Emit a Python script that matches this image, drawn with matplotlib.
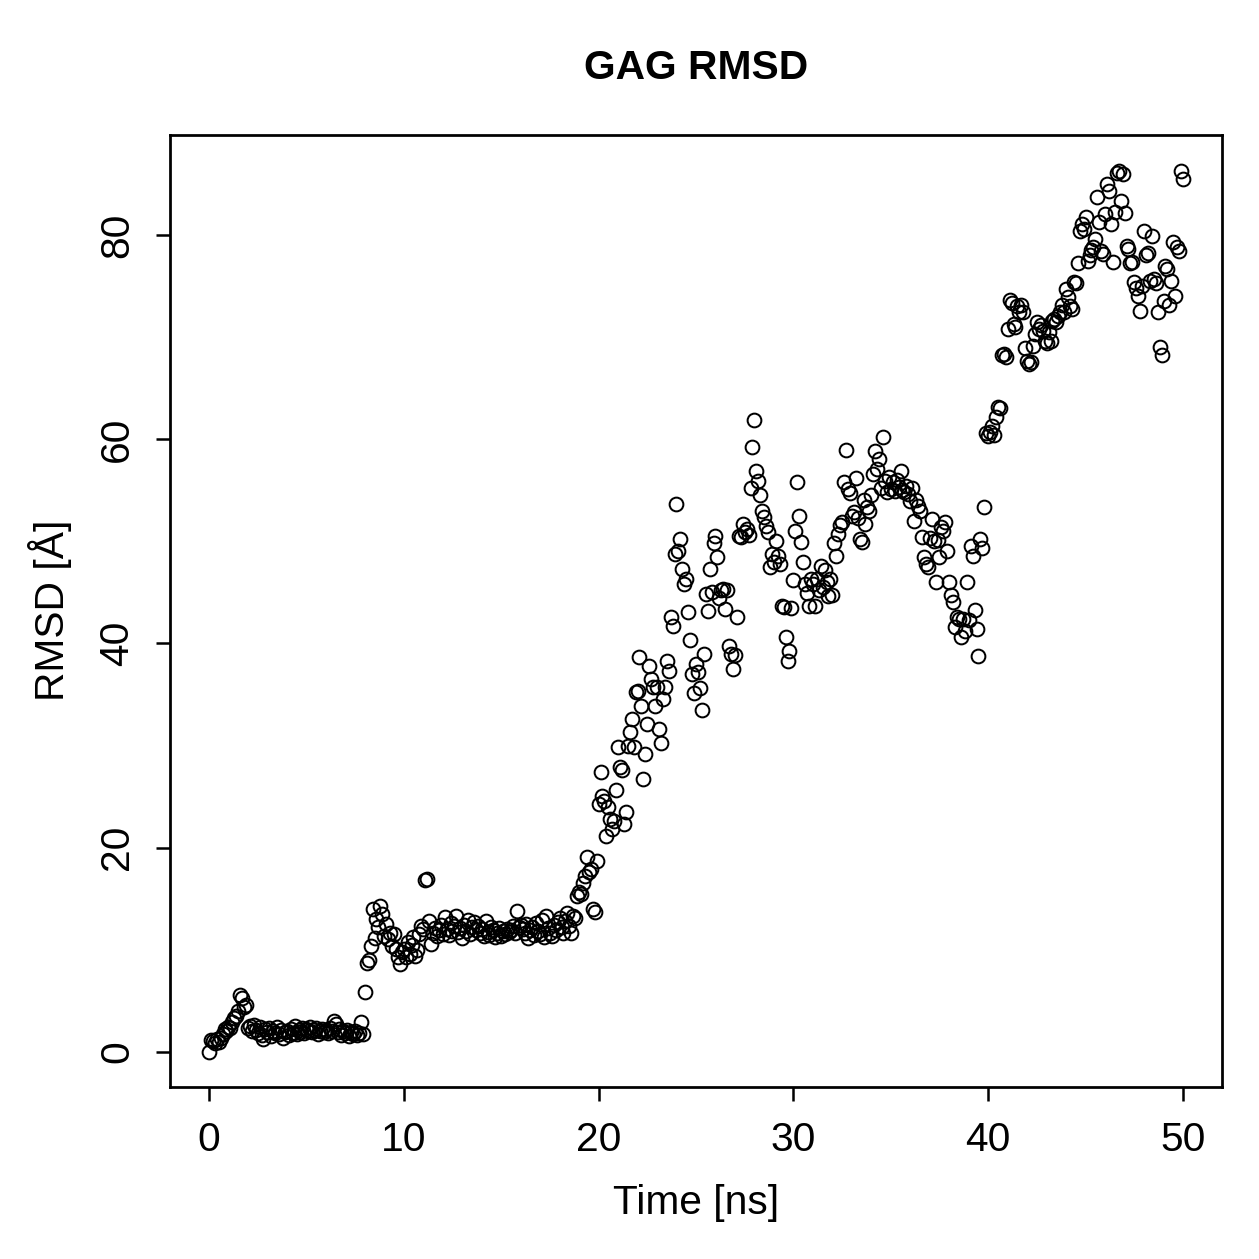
import numpy as np
import matplotlib.pyplot as plt

plt.rcParams['font.family'] = ['Liberation Sans', 'DejaVu Sans']

# tempo de simulacao (ns), um frame a cada 0.1 ns
tempo = np.round(np.arange(0, 501) * 0.1, 1)

# RMSD (Angstrom), 10 valores por ns
rmsd = [
    0.0, 1.2, 1.1, 0.9, 1.3, 1.0, 1.4, 1.7, 2.2, 2.0,
    2.4, 2.3, 2.9, 3.3, 3.5, 4.0, 5.6, 5.3, 4.4, 4.6,
    2.3, 2.5, 2.0, 2.6, 2.1, 1.8, 2.4, 1.6, 1.3, 2.2,
    1.9, 2.3, 1.5, 2.0, 1.8, 2.4, 1.7, 2.1, 1.4, 1.9,
    2.0, 1.6, 2.2, 1.8, 2.5, 1.7, 2.1, 1.9, 2.3, 1.8,
    2.2, 2.0, 2.4, 1.9, 2.1, 2.3, 1.7, 2.0, 2.2, 1.9,
    2.1, 1.8, 2.3, 2.0, 3.0, 2.7, 1.9, 2.2, 1.6, 2.0,
    1.8, 2.1, 1.5, 1.9, 1.7, 2.0, 1.6, 1.8, 2.9, 1.7,
    5.9, 8.7, 9.0, 10.4, 14.0, 11.1, 13.0, 12.2, 14.3, 13.5,
    11.3, 12.5, 11.0, 11.6, 10.4, 11.5, 10.1, 9.3, 8.6, 9.8,
    10.1, 9.3, 10.8, 9.6, 10.5, 11.2, 9.4, 10.0, 11.5, 12.3,
    12.0, 16.8, 16.9, 12.8, 10.6, 11.6, 12.1, 11.3, 11.9, 12.4,
    11.5, 13.2, 12.0, 11.4, 12.6, 11.8, 12.3, 13.3, 11.7, 12.1,
    11.1, 12.4, 11.8, 12.9, 11.5, 12.2, 12.7, 11.9, 12.3, 11.6,
    12.0, 11.3, 12.8, 11.7, 11.4, 12.2, 11.9, 11.2, 11.6, 12.1,
    11.3, 11.8, 11.5, 12.0, 11.7, 11.9, 12.3, 11.6, 13.8, 12.2,
    12.4, 12.0, 11.6, 12.5, 11.1, 11.9, 12.2, 11.4, 12.6, 11.8,
    11.5, 12.9, 11.2, 13.3, 12.1, 11.6, 11.3, 12.4, 11.9, 12.7,
    13.1, 12.2, 11.6, 12.8, 13.6, 12.3, 11.6, 13.3, 13.1, 15.3,
    15.7, 15.5, 16.5, 17.2, 19.1, 17.6, 17.9, 14.0, 13.7, 18.7,
    24.3, 27.4, 25.1, 24.6, 21.1, 24.0, 22.8, 21.8, 22.6, 25.6,
    29.9, 27.9, 27.6, 22.3, 23.5, 30.0, 31.3, 32.6, 29.9, 35.2,
    35.3, 38.7, 33.9, 26.7, 29.2, 32.1, 37.8, 36.5, 35.7, 33.9,
    35.7, 31.6, 30.2, 34.6, 35.7, 38.3, 37.3, 42.6, 41.7, 48.8,
    53.7, 49.1, 50.2, 47.3, 45.8, 46.3, 43.1, 40.3, 37.0, 35.1,
    38.0, 37.2, 35.6, 33.5, 39.0, 44.8, 43.2, 47.3, 45.0, 49.8,
    50.5, 48.5, 44.4, 45.2, 45.3, 43.4, 45.2, 39.7, 39.0, 37.5,
    38.9, 42.6, 50.5, 50.4, 51.7, 50.9, 51.2, 50.6, 55.2, 59.2,
    61.9, 56.9, 55.9, 54.5, 53.0, 52.4, 51.5, 50.9, 47.5, 48.8,
    48.0, 50.0, 48.6, 47.8, 43.7, 43.6, 40.6, 38.3, 39.3, 43.5,
    46.2, 51.0, 55.8, 52.5, 49.9, 48.0, 45.8, 44.9, 43.7, 46.3,
    45.8, 43.7, 46.3, 45.2, 47.6, 45.5, 47.2, 46.0, 44.6, 46.3,
    44.7, 49.8, 48.6, 50.7, 51.6, 51.9, 55.8, 58.9, 55.1, 54.7,
    52.5, 52.9, 56.2, 52.3, 50.2, 49.9, 54.0, 51.7, 53.4, 53.0,
    54.5, 56.6, 58.8, 57.1, 58.1, 55.2, 60.2, 55.9, 54.8, 56.3,
    55.1, 55.8, 54.9, 56.0, 55.3, 56.9, 55.0, 54.8, 55.4, 54.6,
    53.9, 55.2, 52.0, 54.0, 53.5, 53.0, 50.4, 48.5, 47.8, 47.5,
    50.3, 52.2, 50.0, 46.0, 50.1, 48.5, 51.4, 51.0, 51.9, 49.1,
    46.0, 44.7, 44.1, 41.6, 42.6, 42.4, 40.6, 42.4, 41.2, 46.0,
    42.3, 49.5, 48.6, 43.3, 41.4, 38.8, 50.2, 49.3, 53.4, 60.6,
    60.3, 60.7, 61.3, 60.4, 62.2, 63.2, 63.1, 68.2, 68.3, 68.1,
    70.8, 73.6, 73.3, 71.3, 71.0, 73.0, 72.5, 73.1, 72.5, 68.9,
    67.7, 67.4, 67.6, 69.1, 70.3, 71.5, 70.8, 71.2, 70.6, 69.6,
    69.4, 70.5, 69.6, 71.6, 71.8, 71.5, 72.1, 72.5, 73.1, 72.5,
    74.7, 73.9, 73.0, 72.8, 75.4, 75.3, 77.3, 80.4, 81.1, 80.6,
    81.8, 77.5, 78.0, 78.5, 78.8, 79.6, 83.7, 81.3, 78.4, 78.1,
    82.1, 85.0, 84.3, 81.1, 77.4, 82.3, 86.1, 86.3, 83.3, 86.0,
    82.2, 78.9, 78.6, 77.3, 77.4, 75.4, 74.8, 74.0, 72.6, 75.0,
    80.4, 78.0, 78.2, 75.5, 79.9, 75.7, 75.3, 72.5, 69.0, 68.2,
    73.5, 77.0, 76.7, 73.1, 75.5, 79.3, 74.0, 78.8, 78.4, 86.3,
    85.5,
]

fig = plt.figure(figsize=(1259 / 180, 1259 / 180), dpi=180)
ax = fig.add_axes([0.135, 0.1366, 0.8356, 0.7562])

ax.plot(tempo, rmsd, 'o', markersize=5.5, markerfacecolor='none',
        markeredgecolor='black', markeredgewidth=0.8)

ax.set_xlim(-2, 52)
ax.set_ylim(-3.45, 89.8)
ax.set_xticks([0, 10, 20, 30, 40, 50])
ax.set_yticks([0, 20, 40, 60, 80])

for s in ax.spines.values():
    s.set_linewidth(1.1)
ax.tick_params(axis='both', length=5.5, width=1.0, labelsize=16.3, pad=8)
ax.tick_params(axis='y', labelrotation=90)
for lbl in ax.get_yticklabels():
    lbl.set_va('center')

fig.text(0.553, 0.946, 'GAG RMSD', ha='center', va='center',
         fontsize=16.3, fontweight='bold')
fig.text(0.553, 0.0445, 'Time [ns]', ha='center', va='center', fontsize=16.3)
fig.text(0.0397, 0.515, 'RMSD [Å]', ha='center', va='center',
         fontsize=16.3, rotation=90)

fig.savefig('out.png', dpi=180)
